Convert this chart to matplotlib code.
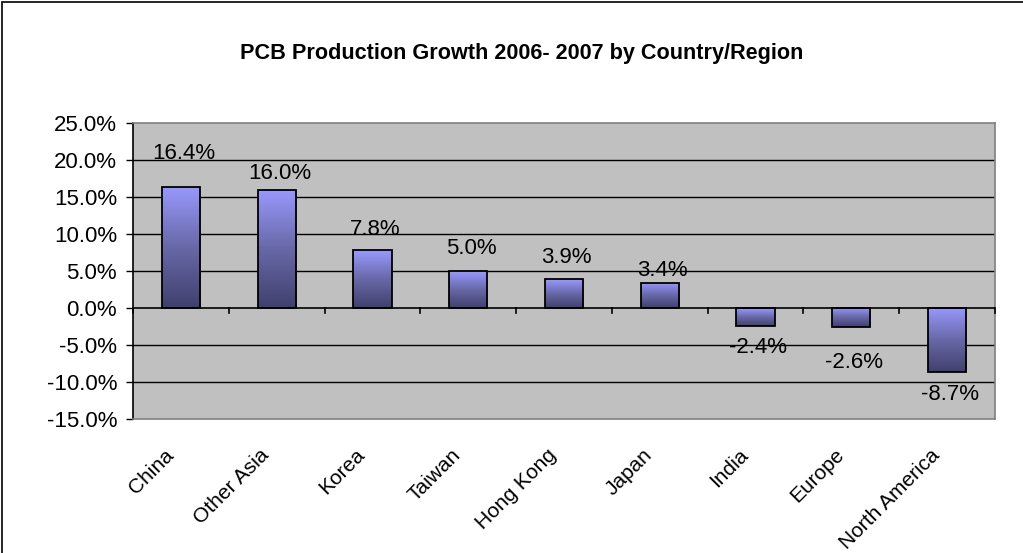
import numpy as np
import matplotlib
matplotlib.use("Agg")
import matplotlib.pyplot as plt
from matplotlib.patches import Rectangle
from matplotlib.colors import LinearSegmentedColormap
from matplotlib.transforms import ScaledTranslation

categories = ["China", "Other Asia", "Korea", "Taiwan", "Hong Kong", "Japan",
              "India", "Europe", "North America"]
growth = [16.4, 16.0, 7.8, 5.0, 3.9, 3.4, -2.4, -2.6, -8.7]
value_labels = ["16.4%", "16.0%", "7.8%", "5.0%", "3.9%", "3.4%", "-2.4%", "-2.6%", "-8.7%"]
y_ticks = [25, 20, 15, 10, 5, 0, -5, -10, -15]
title = "PCB Production Growth 2006- 2007 by Country/Region"

# label offsets from bar end (pixels, to label centre)
label_offsets_px = [33, 16, 21, 23, 22, 12, 22, 35, 22]

plt.rcParams['font.family'] = ['Liberation Sans', 'DejaVu Sans']

fig = plt.figure(figsize=(10.23, 5.53), dpi=100)
fig.patch.set_facecolor("white")
ax = fig.add_axes([133/1023, 1 - 419/553, (995 - 133)/1023, (419 - 123)/553])
ax.set_facecolor("#C0C0C0")

x = np.arange(len(categories))
bars = ax.bar(x, growth, width=0.4, facecolor="none", edgecolor="black",
              linewidth=1.3, zorder=4)

cmap = LinearSegmentedColormap.from_list("g", ["#40406E", "#6868A8", "#9999FF"])
grad = np.linspace(0, 1, 256).reshape(-1, 1)
for b in bars:
    x0, w = b.get_x(), b.get_width()
    y0, h = b.get_y(), b.get_height()
    lo, hi = min(y0, y0 + h), max(y0, y0 + h)
    im = ax.imshow(grad, cmap=cmap, aspect="auto", origin="lower",
                   extent=[x0, x0 + w, lo, hi], zorder=3, interpolation="bilinear")
    im.set_clip_path(b)

ax.set_xlim(-0.5, len(categories) - 0.5)
ax.set_ylim(-15, 25)
ax.set_yticks(y_ticks)
ax.set_yticklabels([f"{v:.1f}%" for v in y_ticks], fontsize=16)
ax.tick_params(axis="y", direction="out", length=5, width=1, pad=6.5, colors="black")

ax.set_xticks(x)
ax.set_xticklabels(categories, rotation=45, ha="right", rotation_mode="anchor",
                   fontsize=15)
ax.tick_params(axis="x", length=0, pad=19)
shift = ScaledTranslation(-17/100, 0, fig.dpi_scale_trans)
for lbl in ax.get_xticklabels():
    lbl.set_transform(lbl.get_transform() + shift)

for yv in y_ticks:
    if yv not in (25, -15, 0):
        ax.axhline(yv, color="black", linewidth=1, zorder=1)
ax.axhline(0, color="black", linewidth=1.2, zorder=5)
for bnd in np.arange(-0.5, len(categories), 1.0):
    ax.plot([bnd, bnd], [0, -0.65], color="black", linewidth=1.2, zorder=5,
            clip_on=False)

for sp in ["top", "right", "bottom"]:
    ax.spines[sp].set_color("#808080")
    ax.spines[sp].set_linewidth(1.2)
ax.spines["left"].set_color("black")
ax.spines["left"].set_linewidth(1.2)

for xi, v, lab, off in zip(x, growth, value_labels, label_offsets_px):
    sign = 1 if v >= 0 else -1
    ax.annotate(lab, xy=(xi, v), xytext=(2, sign * off * 0.72),
                textcoords="offset points", ha="center", va="center",
                fontsize=16, zorder=6)

fig.text(0.51, 1 - 53/553, title, ha="center", va="center", fontsize=15.6,
         fontweight="bold")

fig.patches.append(Rectangle((2/1023, -0.5), 2.0, 1.5 - 1.5/553, transform=fig.transFigure,
                             fill=False, edgecolor="black", linewidth=1.2))

fig.savefig("out.png", dpi=100)
